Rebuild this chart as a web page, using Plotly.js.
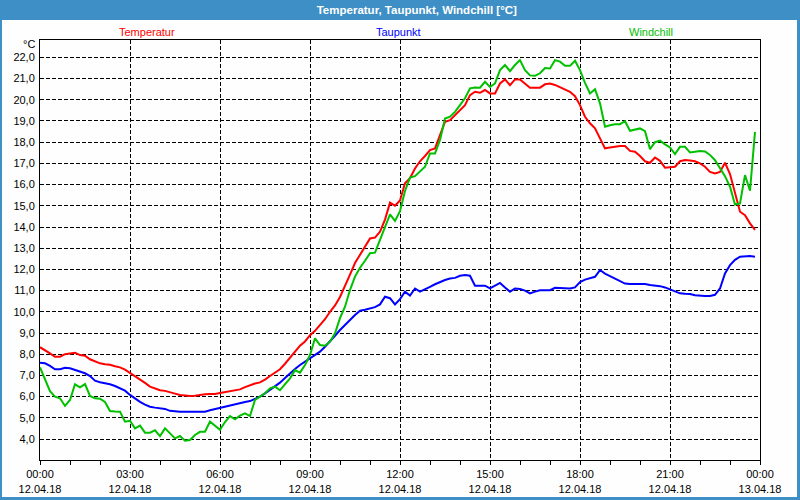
<!DOCTYPE html>
<html>
<head>
<meta charset="utf-8">
<script src="https://cdn.plot.ly/plotly-3.0.1.min.js"></script>
<style>
  body { margin: 0; background: #fdfefd; }
  #chart { width: 800px; height: 500px; }
</style>
</head>
<body>
<div id="chart"></div>
<script>
// 10-minute readings, 12.04.18 00:00 .. 23:30 (one row = one hour)
let temperatur = [
  8.33, 8.2, 8.04, 7.88, 7.88, 8.0,
  8.05, 8.07, 7.96, 7.93, 7.76, 7.65,
  7.57, 7.53, 7.5, 7.43, 7.38, 7.27,
  7.12, 6.98, 6.82, 6.65, 6.47, 6.37,
  6.3, 6.27, 6.22, 6.14, 6.08, 6.05,
  6.03, 6.04, 6.08, 6.11, 6.12, 6.12,
  6.17, 6.22, 6.27, 6.32, 6.34, 6.45,
  6.55, 6.62, 6.67, 6.8, 6.97, 7.12,
  7.29, 7.55, 7.85, 8.12, 8.4, 8.6,
  8.9, 9.1, 9.38, 9.65, 10.0, 10.3,
  10.7, 11.2, 11.75, 12.3, 12.7, 13.1,
  13.46, 13.5, 13.78, 14.35, 15.15, 15.0,
  15.25, 16.06, 16.3, 16.76, 17.1, 17.35,
  17.63, 17.71, 18.33, 18.96, 19.04, 19.28,
  19.51, 19.75, 20.22, 20.38, 20.33, 20.46,
  20.3, 20.3, 20.77, 20.96, 20.69, 20.96,
  20.96, 20.77, 20.57, 20.57, 20.57, 20.73,
  20.77, 20.7, 20.6, 20.5, 20.38, 20.17,
  19.75, 19.2, 18.89, 18.65, 18.18, 17.71,
  17.75, 17.8, 17.82, 17.82, 17.59, 17.55,
  17.35, 17.1, 17.03, 17.28, 17.12, 16.8,
  16.81, 16.84, 17.1, 17.16, 17.14, 17.1,
  17.0, 16.84, 16.6, 16.53, 16.6, 17.03,
  16.5, 15.6, 14.72, 14.56, 14.17, 13.86
];
let taupunkt = [
  7.6, 7.57, 7.45, 7.29, 7.29, 7.36,
  7.34, 7.27, 7.18, 7.1, 6.97, 6.75,
  6.68, 6.64, 6.58, 6.5, 6.4, 6.28,
  6.08, 5.9, 5.75, 5.62, 5.52, 5.48,
  5.45, 5.42, 5.33, 5.3, 5.29, 5.29,
  5.29, 5.29, 5.29, 5.29, 5.36, 5.42,
  5.48, 5.53, 5.57, 5.64, 5.7, 5.75,
  5.79, 5.9, 6.0, 6.15, 6.31, 6.5,
  6.66, 6.88, 7.1, 7.3, 7.49, 7.65,
  7.81, 7.96, 8.12, 8.35, 8.59, 8.87,
  9.14, 9.4, 9.61, 9.85, 10.05, 10.1,
  10.15, 10.22, 10.35, 10.71, 10.64, 10.35,
  10.6, 10.95, 10.77, 11.1, 10.95, 11.05,
  11.18, 11.3, 11.42, 11.5, 11.57, 11.6,
  11.7, 11.73, 11.7, 11.23, 11.23, 11.23,
  11.1, 11.25, 11.36, 11.15, 10.95, 11.1,
  11.08, 11.0, 10.87, 10.95, 11.02, 11.02,
  11.02, 11.13, 11.12, 11.12, 11.1, 11.15,
  11.4, 11.52, 11.6, 11.65, 11.97, 11.8,
  11.68, 11.56, 11.42, 11.33, 11.31, 11.31,
  11.31, 11.31, 11.26, 11.24, 11.21, 11.15,
  11.06, 10.97, 10.87, 10.85, 10.84, 10.78,
  10.75, 10.75, 10.75, 10.8, 11.1, 11.81,
  12.2, 12.45, 12.6, 12.63, 12.63, 12.6
];
let windchill = [
  7.38, 6.78, 6.26, 6.0, 5.92, 5.56,
  5.84, 6.58, 6.44, 6.59, 6.03, 5.92,
  5.9, 5.75, 5.32, 5.3, 5.29, 4.82,
  4.86, 4.5, 4.63, 4.3, 4.3, 4.41,
  4.14, 4.5, 4.24, 4.03, 4.14, 3.92,
  3.95, 4.19, 4.34, 4.34, 4.82, 4.61,
  4.44, 4.8, 5.08, 4.93, 5.1, 5.21,
  5.08, 5.84, 6.0, 6.16, 6.39, 6.47,
  6.3, 6.6, 6.86, 7.25, 7.13, 7.49,
  7.96, 8.75, 8.43, 8.4, 8.59, 8.99,
  9.7, 10.24, 11.03, 11.66, 12.08, 12.41,
  12.76, 12.79, 13.39, 13.97, 14.6, 14.29,
  14.75, 15.7, 16.33, 16.4, 16.6, 16.84,
  17.47, 17.47, 18.1, 19.12, 19.2, 19.43,
  19.75, 20.07, 20.54, 20.58, 20.57, 20.85,
  20.61, 20.77, 21.4, 21.64, 21.35, 21.64,
  21.87, 21.4, 21.15, 21.13, 21.25, 21.5,
  21.48, 21.87, 21.8, 21.6, 21.6, 21.84,
  21.4, 20.8, 20.3, 20.5, 19.83, 18.73,
  18.8, 18.85, 18.85, 18.99, 18.54, 18.6,
  18.65, 18.52, 17.67, 18.0, 18.07, 17.9,
  17.75, 17.44, 17.78, 17.78, 17.52, 17.55,
  17.58, 17.56, 17.4, 17.15, 16.76, 16.4,
  15.9, 15.06, 15.11, 16.45, 15.71, 18.49
];

let seriesNames = ["Temperatur", "Taupunkt", "Windchill"];
let seriesColors = ["#ff0000", "#0000ff", "#00c000"];

// time stamps every 10 minutes
let times = [];
for (let i = 0; i < temperatur.length; i++) {
  let m = i * 10;
  let hh = String(Math.floor(m / 60)).padStart(2, "0");
  let mm = String(m % 60).padStart(2, "0");
  times.push("2018-04-12 " + hh + ":" + mm);
}

let allValues = [temperatur, taupunkt, windchill];
let data = allValues.map((vals, i) => ({
  x: times,
  y: vals,
  type: "scatter",
  mode: "lines",
  name: seriesNames[i],
  line: { color: seriesColors[i], width: 2 }
}));

// legend labels as coloured text above the plot
let legendX = [0.1486, 0.4986, 0.8486];
let annotations = seriesNames.map((n, i) => ({
  text: n, xref: "paper", yref: "paper", x: legendX[i], y: 1.019,
  xanchor: "center", yanchor: "middle", showarrow: false,
  font: { color: seriesColors[i], size: 11 }
}));
annotations.push({
  text: "°C", xref: "paper", yref: "paper", x: -0.004, y: 0.99,
  xanchor: "right", yanchor: "middle", showarrow: false,
  font: { color: "#000", size: 11 }
});

let frame = "#3d8fc5";
let shapes = [
  // title bar
  { type: "rect", xref: "paper", yref: "paper", x0: -0.0556, x1: 1.0556, y0: 1.0476, y1: 1.0952,
    fillcolor: frame, line: { width: 0 }, layer: "below" },
  // window border
  { type: "rect", xref: "paper", yref: "paper", x0: -0.0556, x1: -0.0528, y0: -0.0952, y1: 1.0952,
    fillcolor: frame, line: { width: 0 }, layer: "below" },
  { type: "rect", xref: "paper", yref: "paper", x0: 1.0514, x1: 1.0556, y0: -0.0952, y1: 1.0952,
    fillcolor: frame, line: { width: 0 }, layer: "below" },
  { type: "rect", xref: "paper", yref: "paper", x0: -0.0556, x1: 1.0556, y0: -0.0952, y1: -0.0881,
    fillcolor: frame, line: { width: 0 }, layer: "below" }
];

let layout = {
  width: 800,
  height: 500,
  margin: { l: 40, r: 40, t: 40, b: 40, pad: 0 },
  paper_bgcolor: "#fdfefd",
  plot_bgcolor: "#fdfefd",
  font: { family: "Liberation Sans, Arial, sans-serif", size: 11, color: "#000" },
  separators: ",.",
  showlegend: false,
  hovermode: false,
  title: {
    text: "<b>Temperatur, Taupunkt, Windchill [°C]</b>",
    font: { color: "#ffffff", size: 11.5 },
    x: 0.521, xanchor: "center",
    y: 0.98, yanchor: "middle", yref: "container"
  },
  xaxis: {
    type: "date",
    range: ["2018-04-12 00:00", "2018-04-13 00:00"],
    tick0: "2018-04-12 00:00",
    dtick: 10800000,
    tickformat: "%H:%M<br>%d.%m.%y",
    showgrid: true,
    gridcolor: "#000",
    gridwidth: 1,
    griddash: "4px,2px",
    showline: true,
    linecolor: "#000",
    linewidth: 1,
    mirror: true,
    ticks: "outside",
    ticklen: 4,
    tickcolor: "#000",
    minor: { dtick: 3600000, ticks: "outside", ticklen: 4, tickcolor: "#000", showgrid: false },
    zeroline: false
  },
  yaxis: {
    range: [3.01, 22.82],
    tick0: 0,
    dtick: 1,
    tickformat: ".1f",
    showgrid: true,
    gridcolor: "#000",
    gridwidth: 1,
    griddash: "4px,2px",
    showline: true,
    linecolor: "#000",
    linewidth: 1,
    mirror: true,
    ticks: "",
    ticklabelstandoff: 2,
    zeroline: false
  },
  annotations: annotations,
  shapes: shapes
};

Plotly.newPlot("chart", data, layout, { staticPlot: true, displayModeBar: false });
</script>
</body>
</html>
